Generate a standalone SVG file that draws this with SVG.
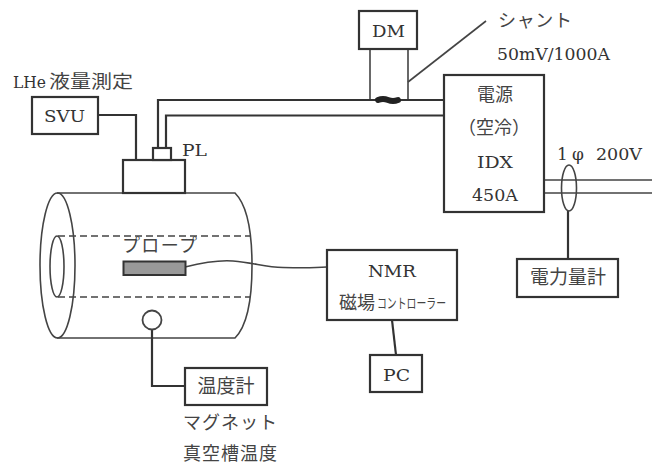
<svg xmlns="http://www.w3.org/2000/svg" width="655" height="466" viewBox="0 0 655 466">
<style>
text{font-family:"DejaVu Serif","Noto Sans CJK JP",serif;fill:#333;font-size:17px}
.j{font-family:"Noto Sans CJK JP","Liberation Serif",sans-serif;font-weight:400;fill:#444;font-size:18px}
.b{fill:#fff;stroke:#333;stroke-width:2.2}
.w{fill:none;stroke:#333;stroke-width:2.2}
.t{fill:none;stroke:#444;stroke-width:1.6}
.d{fill:none;stroke:#444;stroke-width:1.6;stroke-dasharray:7 4}
.m{text-anchor:middle}
</style>
<rect width="655" height="466" fill="#fff"/>
<g id="magnet">
<path class="t" d="M57 193H235Q252 210 252 265.500Q252 321 235 338H57"/>
<ellipse class="t" cx="57.500" cy="265.500" rx="17.500" ry="72.500"/>
<ellipse class="t" cx="57" cy="266.500" rx="7" ry="30.500"/>
<path class="d" d="M58 236H250M58 297H250"/>
</g>
<g id="connectors">
<path class="w" d="M98 115H136V160"/>
<path class="w" d="M158 148V100H445M166 148V115.500H445"/>
<path class="t" d="M370 49V99M408 49V99"/>
<path class="t" d="M408 82L486 21"/>
<path fill="none" stroke="#222" stroke-width="6" stroke-linecap="round" d="M378 100Q383 98 388 100T398 100"/>
<path class="t" d="M544 180H652M544 193H652"/>
<path class="w" d="M568 211V259"/>
<path class="t" d="M185 267C205 262 220 260 233 261C255 263 265 267 283 267.500C300 268 315 268 327 267"/>
<path class="w" d="M392 320L396 355"/>
<path class="w" d="M152 330V386H185"/>
</g>
<g id="svu"><rect class="b" x="32" y="97" width="66" height="37"/><text x="44" y="122" textLength="41" lengthAdjust="spacingAndGlyphs">SVU</text></g>
<text x="13" y="88" textLength="33" lengthAdjust="spacingAndGlyphs">LHe</text><text class="j" x="49" y="88" textLength="84" lengthAdjust="spacingAndGlyphs">液量測定</text>
<g id="cap"><rect class="b" x="123" y="160" width="62" height="33"/></g>
<g id="pl"><rect class="b" x="153" y="148" width="18" height="12"/><text x="182" y="156" textLength="25" lengthAdjust="spacingAndGlyphs">PL</text></g>
<g id="dm"><rect class="b" x="359" y="11" width="58" height="38"/><text x="372" y="37" textLength="33" lengthAdjust="spacingAndGlyphs">DM</text></g>
<text class="j" x="498" y="27" textLength="74" lengthAdjust="spacing">シャント</text>
<text x="497" y="60" textLength="113" lengthAdjust="spacingAndGlyphs">50mV/1000A</text>
<g id="power"><rect class="b" x="444" y="75" width="100" height="137"/>
<text class="j m" x="495" y="101">電源</text>
<text class="j m" x="494" y="134">（空冷）</text>
<text x="477" y="168" textLength="36" lengthAdjust="spacingAndGlyphs">IDX</text>
<text x="472" y="201" textLength="46" lengthAdjust="spacingAndGlyphs">450A</text></g>
<text x="557" y="160">1</text><text x="572" y="160">φ</text><text x="596" y="160" textLength="46" lengthAdjust="spacingAndGlyphs">200V</text>
<ellipse id="ct" class="t" cx="569" cy="188" rx="7.500" ry="23"/>
<g id="meter"><rect class="b" x="517" y="259" width="101" height="38"/><text class="j m" x="568" y="284" style="font-size:19px">電力量計</text></g>
<g id="probe"><rect x="123.500" y="261.500" width="62" height="13.500" fill="#999" stroke="#333" stroke-width="2"/><text class="j" x="122" y="252" textLength="75" lengthAdjust="spacing">プロープ</text></g>
<g id="sensor"><circle cx="152" cy="320" r="9.500" fill="#fff" stroke="#444" stroke-width="1.800"/></g>
<g id="thermo"><rect class="b" x="185" y="368" width="82" height="37"/><text class="j m" x="226" y="393" style="font-size:19px">温度計</text></g>
<text class="j" x="183" y="429" textLength="94" lengthAdjust="spacing">マグネット</text>
<text class="j" x="183" y="460" textLength="94" lengthAdjust="spacing">真空槽温度</text>
<g id="nmr"><rect class="b" x="327" y="250" width="130" height="70"/><text x="368" y="277" textLength="48" lengthAdjust="spacingAndGlyphs">NMR</text>
<text class="j" x="339" y="309">磁場</text><text class="j" x="377" y="308" style="font-size:14px" textLength="69" lengthAdjust="spacingAndGlyphs">コントローラー</text></g>
<g id="pc"><rect class="b" x="370" y="355" width="52" height="37"/><text x="383" y="381" textLength="27" lengthAdjust="spacingAndGlyphs">PC</text></g>
</svg>
